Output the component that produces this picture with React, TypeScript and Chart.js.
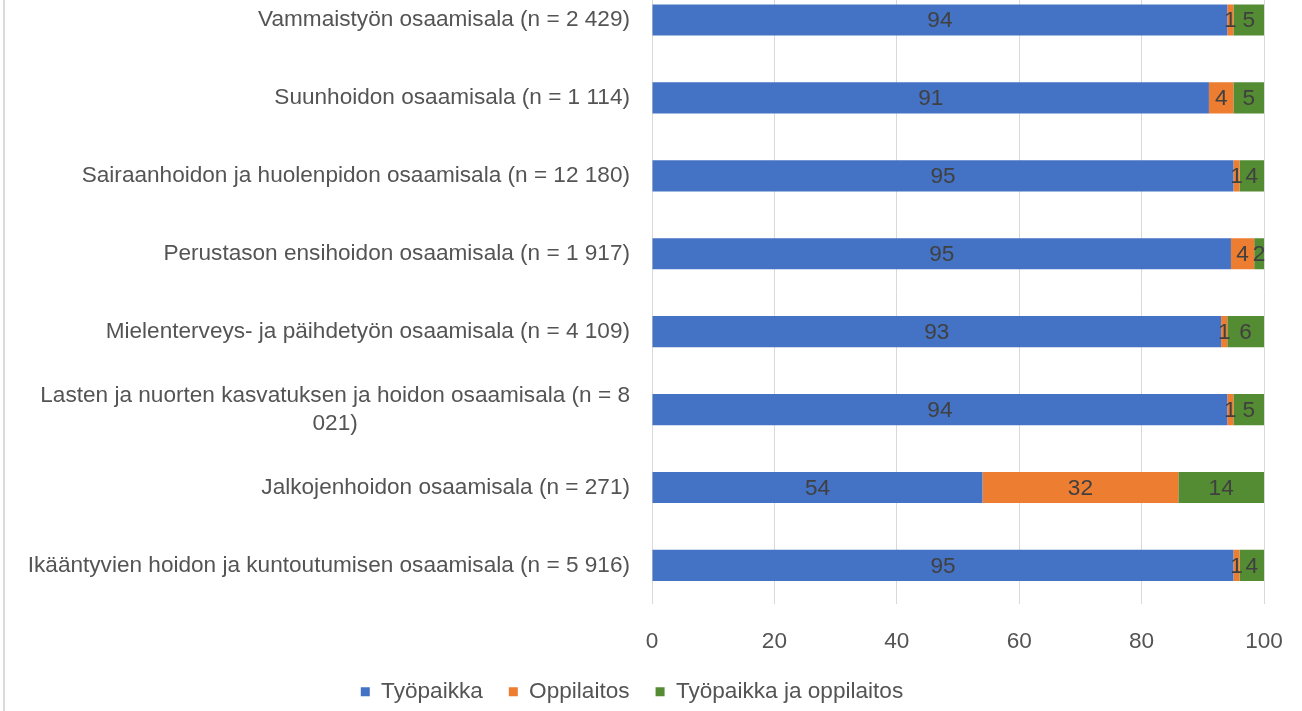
import { useEffect, useRef } from "react";
import { Chart, registerables } from "chart.js";

Chart.register(...registerables);

const categories: (string | string[])[] = [
  "Vammaistyön osaamisala (n = 2 429)",
  "Suunhoidon osaamisala (n = 1 114)",
  "Sairaanhoidon ja huolenpidon osaamisala (n = 12 180)",
  "Perustason ensihoidon osaamisala (n = 1 917)",
  "Mielenterveys- ja päihdetyön osaamisala (n = 4 109)",
  ["Lasten ja nuorten kasvatuksen ja hoidon osaamisala (n = 8", "021)"],
  "Jalkojenhoidon osaamisala (n = 271)",
  "Ikääntyvien hoidon ja kuntoutumisen osaamisala (n = 5 916)",
];

const seriesNames = ["Työpaikka", "Oppilaitos", "Työpaikka ja oppilaitos"];
const tyopaikka = [94, 91, 95, 94.6, 93, 94, 54, 95];
const oppilaitos = [1, 4, 1, 3.8, 1, 1, 32, 1];
const molemmat = [5, 5, 4, 1.6, 6, 5, 14, 4];
const xTickValues = [0, 20, 40, 60, 80, 100];

const COLORS = ["#4472C4", "#ED7D31", "#548C33"];
const TEXT = "#545454";
const LABEL = "#404040";

export default function App() {
  const ref = useRef<HTMLCanvasElement>(null);

  useEffect(() => {
    document.body.style.margin = "0";
    const family = '"Liberation Sans", Arial, sans-serif';
    const size = 22.6;
    const font = { family, size, lineHeight: 1.1 };
    const fontStr = `${size}px ${family}`;

    const yLabelPlugin = {
      id: "yLabels",
      afterDraw(chart: any) {
        const { ctx, chartArea } = chart;
        const yScale = chart.scales.y;
        const right = chartArea.left - 22;
        const lh = 28;
        ctx.save();
        ctx.font = fontStr;
        ctx.fillStyle = TEXT;
        ctx.textBaseline = "middle";
        categories.forEach((lab, i) => {
          const lines = Array.isArray(lab) ? lab : [lab];
          const cy = yScale.getPixelForValue(i);
          const maxW = Math.max(...lines.map((l) => ctx.measureText(l).width));
          const y0 = cy - ((lines.length - 1) * lh) / 2;
          lines.forEach((l, j) => {
            if (lines.length === 1) {
              ctx.textAlign = "right";
              ctx.fillText(l, right, y0 + j * lh);
            } else {
              ctx.textAlign = "center";
              ctx.fillText(l, right - maxW / 2, y0 + j * lh);
            }
          });
        });
        ctx.restore();
      },
    };

    const valuePlugin = {
      id: "values",
      afterDatasetsDraw(chart: any) {
        const { ctx } = chart;
        ctx.save();
        ctx.font = fontStr;
        ctx.fillStyle = LABEL;
        ctx.textAlign = "center";
        ctx.textBaseline = "middle";
        chart.data.datasets.forEach((ds: any, di: number) => {
          const meta = chart.getDatasetMeta(di);
          meta.data.forEach((el: any, i: number) => {
            const v = ds.data[i];
            if (!v) return;
            const x = (el.x + el.base) / 2;
            ctx.fillText(String(Math.round(v)), x, el.y + 1);
          });
        });
        ctx.restore();
      },
    };

    const chart = new Chart(ref.current as HTMLCanvasElement, {
      type: "bar",
      data: {
        labels: categories.map((c) => (Array.isArray(c) ? c.join(" ") : c)),
        datasets: [
          { label: seriesNames[0], data: tyopaikka, backgroundColor: COLORS[0], borderWidth: 0 },
          { label: seriesNames[1], data: oppilaitos, backgroundColor: COLORS[1], borderWidth: 0 },
          { label: seriesNames[2], data: molemmat, backgroundColor: COLORS[2], borderWidth: 0 },
        ],
      },
      options: {
        indexAxis: "y",
        responsive: false,
        animation: false,
        devicePixelRatio: 1,
        datasets: { bar: { barPercentage: 0.4, categoryPercentage: 1 } },
        layout: { padding: { top: 21, right: 38, left: 0, bottom: 0 } },
        scales: {
          x: {
            stacked: true,
            min: 0,
            max: 100,
            afterBuildTicks: (s: any) => {
              s.ticks = xTickValues.map((v) => ({ value: v }));
            },
            ticks: { color: TEXT, font, padding: 25 },
            grid: { color: "#d9d9d9", lineWidth: 1, drawTicks: false },
            border: { display: false },
            afterFit: (s: any) => {
              s.height = 50;
              s.paddingLeft = 0;
              s.paddingRight = 0;
            },
          },
          y: {
            stacked: true,
            ticks: { display: false },
            grid: { display: false },
            border: { display: false },
            afterFit: (s: any) => {
              s.width = 652;
            },
          },
        },
        plugins: {
          legend: {
            position: "bottom",
            labels: { boxWidth: 9, boxHeight: 9, padding: 26, color: TEXT, font },
          },
          tooltip: { enabled: false },
        },
      },
      plugins: [yLabelPlugin, valuePlugin],
    } as any);

    return () => chart.destroy();
  }, []);

  return (
    <div style={{ position: "relative", width: 1302, height: 711, overflow: "hidden", background: "#fff" }}>
      <div style={{ position: "absolute", left: 3, top: 0, width: 2, height: 711, background: "#dadada" }} />
      <canvas
        ref={ref}
        width={1302}
        height={753}
        style={{ position: "absolute", left: 0, top: -40, width: 1302, height: 753 }}
      />
    </div>
  );
}
